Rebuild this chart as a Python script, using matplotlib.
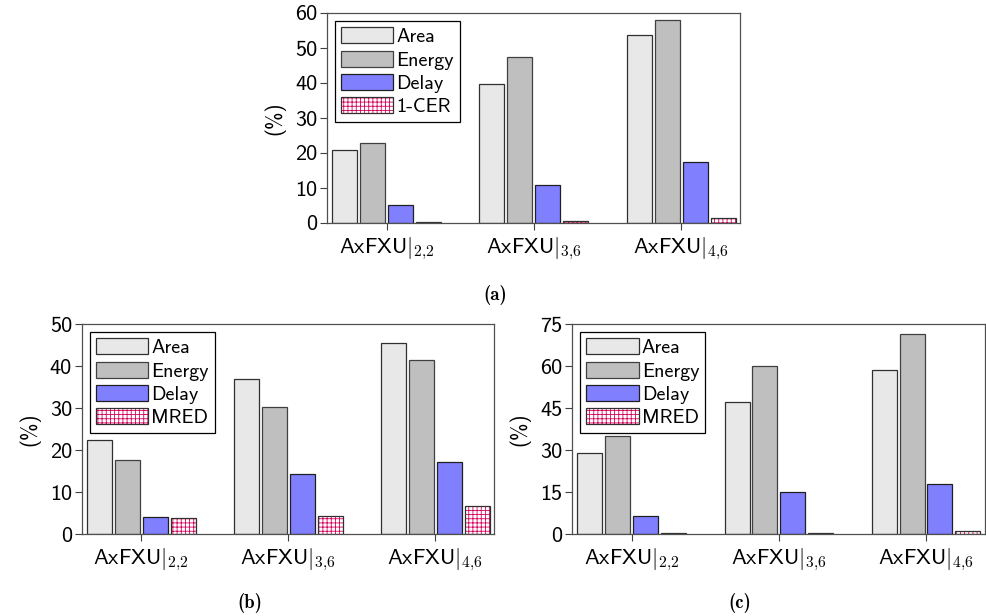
import numpy as np
import matplotlib.pyplot as plt

plt.rcParams['font.family'] = ['cmss10', 'DejaVu Sans']
plt.rcParams['mathtext.fontset'] = 'cm'
plt.rcParams['axes.unicode_minus'] = False
plt.rcParams['hatch.linewidth'] = 0.6

# donnees
groups = [r'AxFXU$|_{2{,}2}$', r'AxFXU$|_{3{,}6}$', r'AxFXU$|_{4{,}6}$']

area_a = [21.0, 39.6, 53.6]
energy_a = [22.9, 47.3, 58.0]
delay_a = [5.2, 11.0, 17.3]
cer_a = [0.2, 0.6, 1.5]

area_b = [22.3, 36.8, 45.4]
energy_b = [17.7, 30.3, 41.4]
delay_b = [4.1, 14.2, 17.1]
mred_b = [3.7, 4.4, 6.7]

area_c = [28.8, 47.1, 58.6]
energy_c = [34.9, 59.9, 71.4]
delay_c = [6.3, 15.1, 17.7]
mred_c = [0.2, 0.5, 1.0]

yticks_a = [0, 10, 20, 30, 40, 50, 60]
yticks_b = [0, 10, 20, 30, 40, 50]
yticks_c = [0, 15, 30, 45, 60, 75]

W, H = 986, 616
fig = plt.figure(figsize=(W / 100, H / 100), dpi=100)


def panel(rect, series, last_label, yticks):
    ax = fig.add_axes(rect)
    x = np.arange(len(groups))
    w = 0.17
    step = 0.19
    offs = [-1.5 * step, -0.5 * step, 0.5 * step, 1.5 * step]
    h1 = ax.bar(x + offs[0], series[0], w, color='#e8e8e8', edgecolor='#303030', lw=0.9)
    h2 = ax.bar(x + offs[1], series[1], w, color='#bfbfbf', edgecolor='#404040', lw=0.9)
    h3 = ax.bar(x + offs[2], series[2], w, color='#8080ff', edgecolor='#202020', lw=0.9)
    h4 = ax.bar(x + offs[3], series[3], w, color='white', edgecolor='#d4005a',
                hatch='++++', lw=0)
    h5 = ax.bar(x + offs[3], series[3], w, fill=False, edgecolor='#303030', lw=0.9)
    ax.set_xlim(-0.405, 2.40)
    ax.set_ylim(yticks[0], yticks[-1])
    ax.set_yticks(yticks)
    ax.set_xticks(x)
    ax.set_xticklabels(groups, fontsize=16)
    ax.tick_params(axis='y', labelsize=16, length=5, width=0.8, color='#404040', pad=2)
    ax.tick_params(axis='x', length=5, width=0.8, color='#404040', pad=4)
    for s in ax.spines.values():
        s.set_color('#505050')
        s.set_linewidth(0.9)
    ax.set_ylabel('(%)', fontsize=15, labelpad=7)
    leg = ax.legend([h1, h2, h3, (h4, h5)], ['Area', 'Energy', 'Delay', last_label],
                    loc='upper left', fontsize=14.5, frameon=True, fancybox=False,
                    framealpha=1, edgecolor='black', handlelength=2.6, handleheight=0.85,
                    handletextpad=0.15, labelspacing=0.22, borderpad=0.3, borderaxespad=0.4)
    leg.get_frame().set_linewidth(0.9)
    return ax


panel([327 / W, 1 - 223 / H, 413 / W, 210 / H], [area_a, energy_a, delay_a, cer_a], '1-CER', yticks_a)
panel([81.7 / W, 1 - 534 / H, 412.6 / W, 210 / H], [area_b, energy_b, delay_b, mred_b], 'MRED', yticks_b)
panel([572.3 / W, 1 - 534 / H, 412.5 / W, 210 / H], [area_c, energy_c, delay_c, mred_c], 'MRED', yticks_c)

fig.text(495 / W, 1 - 295 / H, '(a)', family='cmb10', fontsize=13.5, ha='center', va='center')
fig.text(250 / W, 1 - 603 / H, '(b)', family='cmb10', fontsize=13.5, ha='center', va='center')
fig.text(740 / W, 1 - 603 / H, '(c)', family='cmb10', fontsize=13.5, ha='center', va='center')

fig.savefig('out.png', dpi=100)
